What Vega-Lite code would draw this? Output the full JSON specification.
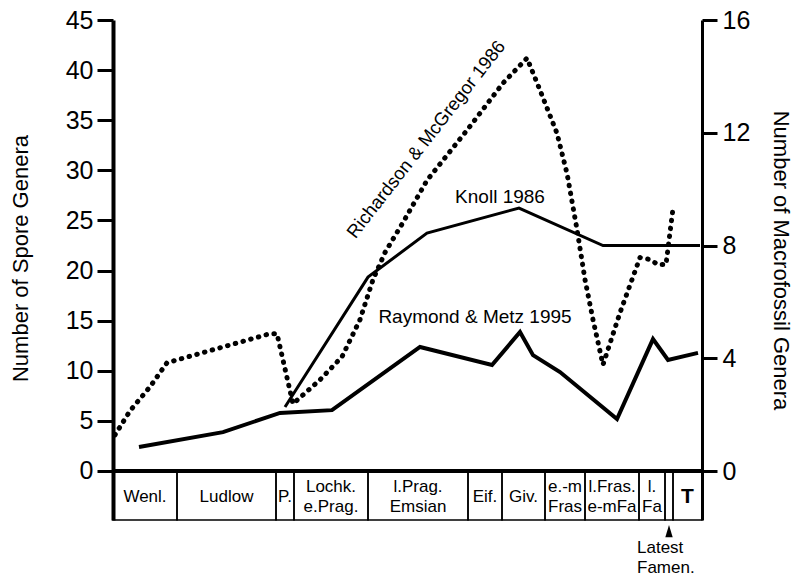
{
  "$schema": "https://vega.github.io/schema/vega-lite/v6.json",
  "width": 589,
  "height": 500,
  "autosize": {"type": "none"},
  "padding": {"left": 113, "top": 20, "right": 97, "bottom": 61},
  "background": "white",
  "config": {"view": {"stroke": null}, "font": "Liberation Sans"},
  "datasets": {
    "richardson": [
      {"x": 2, "v": 3.6}, {"x": 17, "v": 6.0}, {"x": 37, "v": 8.4}, {"x": 54, "v": 10.8},
      {"x": 157, "v": 13.7}, {"x": 164, "v": 13.7}, {"x": 180, "v": 6.7}, {"x": 207, "v": 9.1},
      {"x": 229, "v": 11.4}, {"x": 247, "v": 15.1}, {"x": 260, "v": 19.1}, {"x": 272, "v": 21.8},
      {"x": 290, "v": 24.8}, {"x": 314, "v": 29.0}, {"x": 354, "v": 34.0}, {"x": 390, "v": 38.7},
      {"x": 414, "v": 41.2}, {"x": 427, "v": 38.0}, {"x": 444, "v": 33.7}, {"x": 454, "v": 29.7},
      {"x": 464, "v": 24.1}, {"x": 472, "v": 19.1}, {"x": 480, "v": 15.1}, {"x": 490, "v": 10.6},
      {"x": 507, "v": 15.8}, {"x": 527, "v": 21.3}, {"x": 537, "v": 21.1}, {"x": 545, "v": 20.6},
      {"x": 553, "v": 20.6}, {"x": 560, "v": 26.2}
    ],
    "knoll": [
      {"x": 172, "v": 2.27}, {"x": 255, "v": 6.88}, {"x": 314, "v": 8.44},
      {"x": 406, "v": 9.33}, {"x": 490, "v": 8.0}, {"x": 587, "v": 8.0}
    ],
    "raymond": [
      {"x": 26, "v": 0.85}, {"x": 110, "v": 1.38}, {"x": 167, "v": 2.06}, {"x": 219, "v": 2.16},
      {"x": 307, "v": 4.40}, {"x": 379, "v": 3.76}, {"x": 407, "v": 4.93}, {"x": 420, "v": 4.11},
      {"x": 447, "v": 3.51}, {"x": 504, "v": 1.84}, {"x": 540, "v": 4.68}, {"x": 555, "v": 3.94},
      {"x": 585, "v": 4.19}
    ],
    "table": [
      {"x0": 0, "x1": 64, "mid": 32, "ly": -2.6, "label": "Wenl."},
      {"x0": 64, "x1": 163, "mid": 113.5, "ly": -2.6, "label": "Ludlow"},
      {"x0": 163, "x1": 181, "mid": 172, "ly": -2.6, "label": "P."},
      {"x0": 181, "x1": 255, "mid": 218, "ly": -1.6, "label": "Lochk.\ne.Prag."},
      {"x0": 255, "x1": 355, "mid": 305, "ly": -1.6, "label": "l.Prag.\nEmsian"},
      {"x0": 355, "x1": 389, "mid": 372, "ly": -2.6, "label": "Eif."},
      {"x0": 389, "x1": 432, "mid": 410.5, "ly": -2.6, "label": "Giv."},
      {"x0": 432, "x1": 472, "mid": 452, "ly": -1.6, "label": "e.-m\nFras"},
      {"x0": 472, "x1": 526, "mid": 499, "ly": -1.6, "label": "l.Fras.\ne-mFa"},
      {"x0": 526, "x1": 552, "mid": 539, "ly": -1.6, "label": "l.\nFa"},
      {"x0": 552, "x1": 560, "mid": 556, "ly": -2.6, "label": ""},
      {"x0": 560, "x1": 589, "mid": 574.5, "ly": -2.6, "label": ""}
    ],
    "notes": [
      {"x": 313, "y": 33.1, "text": "Richardson & McGregor 1986", "kind": "rich"},
      {"x": 387, "y": 27.3, "text": "Knoll 1986", "kind": "plain"},
      {"x": 362, "y": 15.4, "text": "Raymond & Metz 1995", "kind": "plain"}
    ]
  },
  "layer": [
    {
      "data": {"name": "table"},
      "mark": {"type": "rect", "fill": "transparent", "stroke": "black", "strokeWidth": 1.5},
      "encoding": {
        "x": {"field": "x0", "type": "quantitative", "scale": {"domain": [0, 589], "nice": false, "zero": false}, "axis": null},
        "x2": {"field": "x1"},
        "y": {"datum": 0, "type": "quantitative", "scale": {"domain": [-4.89, 45], "nice": false, "zero": false}, "axis": null},
        "y2": {"datum": -4.89}
      }
    },
    {
      "data": {"name": "table"},
      "mark": {"type": "text", "fontSize": 17, "align": "center", "baseline": "middle", "lineBreak": "\n", "lineHeight": 20, "color": "black"},
      "encoding": {
        "x": {"field": "mid", "type": "quantitative", "axis": null},
        "y": {"field": "ly", "type": "quantitative", "scale": {"domain": [-4.89, 45], "nice": false, "zero": false}, "axis": null},
        "text": {"field": "label"}
      }
    },
    {
      "data": {"values": [{"label": "T", "mid": 574.5, "ly": -2.6}]},
      "mark": {"type": "text", "fontSize": 21, "fontWeight": "bold", "align": "center", "baseline": "middle", "color": "black"},
      "encoding": {
        "x": {"field": "mid", "type": "quantitative", "axis": null},
        "y": {"field": "ly", "type": "quantitative", "scale": {"domain": [-4.89, 45], "nice": false, "zero": false}, "axis": null},
        "text": {"field": "label"}
      }
    },
    {
      "data": {"values": [{"a": 0, "b": 589, "c": 0}]},
      "mark": {"type": "rule", "strokeWidth": 4, "color": "black"},
      "encoding": {
        "x": {"field": "a", "type": "quantitative", "axis": null},
        "x2": {"field": "b"},
        "y": {"field": "c", "type": "quantitative", "scale": {"domain": [-4.89, 45], "nice": false, "zero": false}, "axis": null}
      }
    },
    {
      "data": {"values": [{"x": 556, "y": -5.99}]},
      "mark": {"type": "point", "shape": "M0,-1L0.6,1L-0.6,1Z", "size": 150, "filled": true, "color": "black", "opacity": 1},
      "encoding": {
        "x": {"field": "x", "type": "quantitative", "axis": null},
        "y": {"field": "y", "type": "quantitative", "scale": {"domain": [-4.89, 45], "nice": false, "zero": false}, "axis": null}
      }
    },
    {
      "data": {"values": [{"x": 524, "y": -7.68, "text": "Latest\nFamen."}]},
      "mark": {"type": "text", "fontSize": 17, "align": "left", "baseline": "middle", "lineBreak": "\n", "lineHeight": 20, "color": "black"},
      "encoding": {
        "x": {"field": "x", "type": "quantitative", "axis": null},
        "y": {"field": "y", "type": "quantitative", "scale": {"domain": [-4.89, 45], "nice": false, "zero": false}, "axis": null},
        "text": {"field": "text"}
      }
    },
    {
      "data": {"name": "notes"},
      "transform": [{"filter": "datum.kind == 'rich'"}],
      "mark": {"type": "text", "fontSize": 18.5, "angle": -52, "align": "center", "baseline": "middle", "color": "black"},
      "encoding": {
        "x": {"field": "x", "type": "quantitative", "axis": null},
        "y": {"field": "y", "type": "quantitative", "scale": {"domain": [-4.89, 45], "nice": false, "zero": false}, "axis": null},
        "text": {"field": "text"}
      }
    },
    {
      "data": {"name": "notes"},
      "transform": [{"filter": "datum.kind == 'plain'"}],
      "mark": {"type": "text", "fontSize": 19, "align": "center", "baseline": "middle", "color": "black"},
      "encoding": {
        "x": {"field": "x", "type": "quantitative", "axis": null},
        "y": {"field": "y", "type": "quantitative", "scale": {"domain": [-4.89, 45], "nice": false, "zero": false}, "axis": null},
        "text": {"field": "text"}
      }
    },
    {
      "data": {"name": "richardson"},
      "mark": {"type": "line", "color": "black", "strokeWidth": 5, "strokeCap": "round", "strokeDash": [0.5, 7.5], "strokeJoin": "round"},
      "encoding": {
        "x": {"field": "x", "type": "quantitative", "axis": null},
        "y": {
          "field": "v", "type": "quantitative",
          "scale": {"domain": [-4.89, 45], "nice": false, "zero": false},
          "axis": {
            "orient": "left", "values": [0, 5, 10, 15, 20, 25, 30, 35, 40, 45],
            "title": "Number of Spore Genera", "titleFontSize": 22, "titleFont": "Liberation Sans",
            "titleFontWeight": "normal", "titleColor": "black", "titleAngle": -90,
            "titleX": -93, "titleY": 238, "titleAlign": "center", "titleBaseline": "middle",
            "labelFontSize": 25, "labelFont": "Liberation Sans", "labelColor": "black",
            "labelPadding": 4, "labelFlush": false, "labelOverlap": false,
            "tickSize": 16, "tickWidth": 3, "tickColor": "black",
            "domainColor": "black", "domainWidth": 4, "grid": false, "zindex": 2
          }
        }
      }
    },
    {
      "data": {"name": "knoll"},
      "mark": {"type": "line", "color": "black", "strokeWidth": 3, "strokeJoin": "miter"},
      "encoding": {
        "x": {"field": "x", "type": "quantitative", "axis": null},
        "y": {
          "field": "v", "type": "quantitative",
          "scale": {"domain": [-1.738, 16], "nice": false, "zero": false},
          "axis": {
            "orient": "right", "values": [0, 4, 8, 12, 16],
            "title": "Number of Macrofossil Genera", "titleFontSize": 22, "titleFont": "Liberation Sans",
            "titleFontWeight": "normal", "titleColor": "black", "titleAngle": 90,
            "titleX": 78, "titleY": 240, "titleAlign": "center", "titleBaseline": "middle",
            "labelFontSize": 25, "labelFont": "Liberation Sans", "labelColor": "black",
            "labelPadding": 5, "labelFlush": false, "labelOverlap": false,
            "tickSize": 15, "tickWidth": 3, "tickColor": "black",
            "domainColor": "black", "domainWidth": 3, "grid": false, "zindex": 2
          }
        }
      }
    },
    {
      "data": {"name": "raymond"},
      "mark": {"type": "line", "color": "black", "strokeWidth": 4, "strokeJoin": "miter"},
      "encoding": {
        "x": {"field": "x", "type": "quantitative", "axis": null},
        "y": {"field": "v", "type": "quantitative", "scale": {"domain": [-1.738, 16], "nice": false, "zero": false}, "axis": null}
      }
    }
  ],
  "resolve": {"scale": {"y": "independent"}, "axis": {"y": "independent"}}
}
